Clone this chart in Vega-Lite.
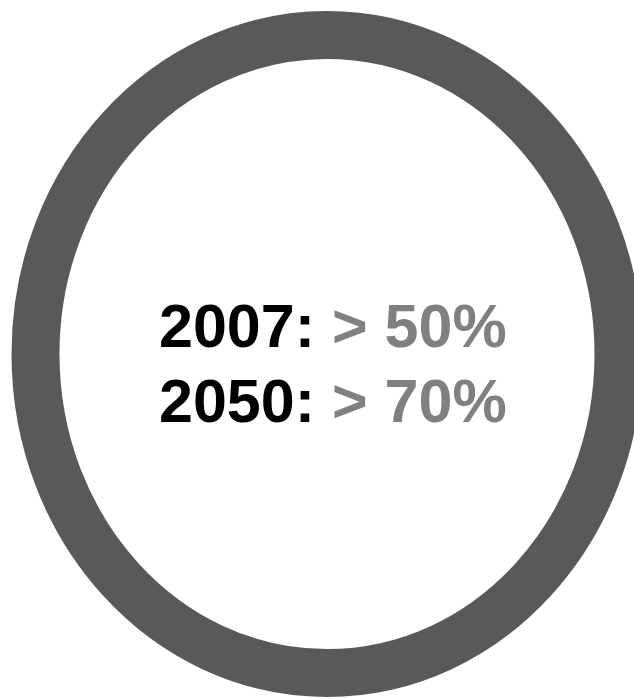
{
  "$schema": "https://vega.github.io/schema/vega-lite/v6.json",
  "width": 634,
  "height": 699,
  "padding": 0,
  "autosize": {"type": "none"},
  "background": "#ffffff",
  "config": {"view": {"stroke": null}},
  "resolve": {"scale": {"y": "independent"}},
  "layer": [
    {
      "data": {"values": [{"shape": "ring"}]},
      "mark": {
        "type": "point",
        "shape": "M-0.9138,0A0.9138,1,0,1,0,0.9138,0A0.9138,1,0,1,0,-0.9138,0Z",
        "size": 407044,
        "filled": false,
        "stroke": "#58595b",
        "strokeWidth": 48,
        "opacity": 1
      },
      "encoding": {
        "x": {"datum": 327, "type": "quantitative", "scale": {"domain": [0, 634], "nice": false, "zero": false}, "axis": null},
        "y": {"datum": 354, "type": "quantitative", "scale": {"domain": [0, 699], "nice": false, "zero": false, "reverse": true}, "axis": null}
      }
    },
    {
      "data": {"values": [
        {"year": "2007", "label": "2007:", "value": "> 50%"},
        {"year": "2050", "label": "2050:", "value": "> 70%"}
      ]},
      "layer": [
        {
          "mark": {"type": "text", "align": "right", "baseline": "alphabetic", "font": "Liberation Sans, Arial, sans-serif", "fontWeight": "bold", "fontSize": 61, "color": "#000000"},
          "encoding": {
            "x": {"datum": 315, "type": "quantitative", "axis": null},
            "y": {"field": "year", "type": "ordinal", "scale": {"type": "point", "domain": ["2007", "2050"], "range": [347, 422], "padding": 0}, "axis": null},
            "text": {"field": "label"}
          }
        },
        {
          "mark": {"type": "text", "align": "left", "baseline": "alphabetic", "font": "Liberation Sans, Arial, sans-serif", "fontWeight": "bold", "fontSize": 61, "color": "#808080"},
          "encoding": {
            "x": {"datum": 332, "type": "quantitative", "axis": null},
            "y": {"field": "year", "type": "ordinal", "scale": {"type": "point", "domain": ["2007", "2050"], "range": [347, 422], "padding": 0}, "axis": null},
            "text": {"field": "value"}
          }
        }
      ]
    }
  ]
}
